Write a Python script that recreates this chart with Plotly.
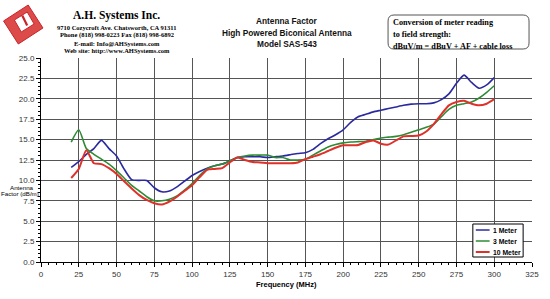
import plotly.graph_objects as go

freq = [20, 25, 30, 35, 40, 45, 50, 55, 60, 65, 70, 75, 80, 85, 90, 95, 100, 105, 110, 115,
        120, 125, 130, 135, 140, 145, 150, 155, 160, 165, 170, 175, 180, 185, 190, 195, 200,
        205, 210, 215, 220, 225, 230, 235, 240, 245, 250, 255, 260, 265, 270, 275, 280, 285,
        290, 295, 300]

af_1m = [11.6, 12.3, 13.2, 13.9, 14.9, 13.9, 13.0, 11.4, 10.1, 10.0, 10.0, 9.1, 8.6, 8.7, 9.2,
         9.9, 10.6, 11.1, 11.5, 11.8, 12.0, 12.4, 12.8, 12.9, 12.9, 12.9, 12.8, 12.9, 13.0, 13.15,
         13.3, 13.4, 13.8, 14.5, 15.1, 15.6, 16.2, 17.1, 17.8, 18.1, 18.4, 18.6, 18.8, 19.0, 19.2,
         19.35, 19.4, 19.4, 19.5, 19.9, 20.6, 21.9, 22.9, 22.0, 21.3, 21.7, 22.6]

af_3m = [14.7, 16.2, 13.9, 13.2, 12.6, 12.0, 11.2, 10.3, 9.4, 8.7, 8.0, 7.5, 7.5, 7.7, 8.1,
         8.8, 9.6, 10.6, 11.4, 11.8, 12.0, 12.4, 12.8, 13.0, 13.1, 13.1, 13.1, 12.8, 12.8, 12.5,
         12.5, 12.6, 13.1, 13.6, 14.1, 14.4, 14.6, 14.7, 14.75, 14.8, 15.0, 15.2, 15.3, 15.4, 15.6,
         15.9, 16.2, 16.5, 16.9, 17.8, 18.7, 19.2, 19.4, 19.6, 20.1, 20.8, 21.6]

af_10m = [10.3, 11.4, 13.7, 12.1, 12.0, 11.5, 10.8, 9.9, 9.0, 8.2, 7.6, 7.2, 7.05, 7.4, 8.0,
          8.7, 9.4, 10.4, 11.3, 11.4, 11.5, 12.2, 12.8, 12.5, 12.25, 12.2, 12.1, 12.1, 12.1, 12.1,
          12.2, 12.6, 12.9, 13.2, 13.6, 14.0, 14.3, 14.3, 14.35, 14.7, 14.9, 14.5, 14.4, 14.9, 15.4,
          15.45, 15.5, 16.0, 16.9, 18.1, 19.2, 19.6, 19.75, 19.4, 19.2, 19.4, 19.95]

series_names = ["1 Meter", "3 Meter", "10 Meter"]
series_values = [af_1m, af_3m, af_10m]
series_colors = ["#2a2a9e", "#2e8b34", "#e0302a"]
series_widths = [1.6, 1.6, 2.0]

x_ticks = [0, 25, 50, 75, 100, 125, 150, 175, 200, 225, 250, 275, 300, 325]
y_ticks = [0.0, 2.5, 5.0, 7.5, 10.0, 12.5, 15.0, 17.5, 20.0, 22.5, 25.0]

W, H = 550, 299
L, R, T, B = 41, 539, 58, 262


def px(x):
    return (x - L) / (R - L)


def py(y):
    return (B - y) / (B - T)


fig = go.Figure()
for name, vals, col, w in zip(series_names, series_values, series_colors, series_widths):
    fig.add_trace(go.Scatter(x=freq, y=vals, name=name, mode="lines", showlegend=False,
                             line=dict(color=col, width=w, shape="spline", smoothing=0.6)))

fig.update_layout(
    width=W, height=H,
    margin=dict(l=L, r=W - R, t=T, b=H - B),
    paper_bgcolor="white", plot_bgcolor="white",
    font=dict(family="Liberation Sans, Arial", size=8, color="#222"),
    showlegend=False,
)

fig.update_xaxes(range=[0, 325], tickvals=x_ticks, ticktext=[str(v) for v in x_ticks],
                 showgrid=True, gridcolor="#555", gridwidth=1,
                 showline=True, linecolor="black", linewidth=1, mirror=False,
                 ticks="outside", ticklen=4, tickcolor="black",
                 tickfont=dict(size=8, color="#333"),
                 minor=dict(dtick=5, ticks="outside", ticklen=2, tickcolor="black", showgrid=False),
                 zeroline=False)
fig.update_yaxes(range=[0, 25], tickvals=y_ticks, ticktext=["%.1f" % v for v in y_ticks],
                 showgrid=True, gridcolor="#555", gridwidth=1,
                 showline=True, linecolor="black", linewidth=1,
                 ticks="outside", ticklen=4, tickcolor="black",
                 tickfont=dict(size=8, color="#333"),
                 minor=dict(dtick=0.5, ticks="outside", ticklen=2, tickcolor="black", showgrid=False),
                 zeroline=False)

ann = []
# chart title
for text, yy in [("Antenna Factor", 21), ("High Powered Biconical Antenna", 32.5), ("Model SAS-543", 44)]:
    ann.append(dict(text="<b>%s</b>" % text, x=px(290), y=py(yy), xref="paper", yref="paper",
                    showarrow=False, xanchor="center", yanchor="middle",
                    font=dict(family="Liberation Sans, Arial", size=8.3, color="#111")))
# company block
ann.append(dict(text="<b>A.H. Systems Inc.</b>", x=px(118), y=py(15), xref="paper", yref="paper",
                showarrow=False, xanchor="center", yanchor="middle",
                font=dict(family="Liberation Serif, Times New Roman", size=11.5, color="black")))
for text, yy in [("9710 Cozycroft Ave. Chatsworth, CA 91311", 27),
                 ("Phone (818) 998-0223 Fax (818) 998-6892", 35),
                 ("E-mail: Info@AHSystems.com", 43),
                 ("Web site: http://www.AHSystems.com", 51)]:
    ann.append(dict(text="<b>%s</b>" % text, x=px(118), y=py(yy), xref="paper", yref="paper",
                    showarrow=False, xanchor="center", yanchor="middle",
                    font=dict(family="Liberation Serif, Times New Roman", size=6.5, color="black")))
# conversion box text
for text, yy in [("Conversion of meter reading", 23), ("to field strength:", 35),
                 ("dBuV/m = dBuV + AF + cable loss", 46)]:
    ann.append(dict(text="<b>%s</b>" % text, x=px(396), y=py(yy), xref="paper", yref="paper",
                    showarrow=False, xanchor="left", yanchor="middle",
                    font=dict(family="Liberation Serif, Times New Roman", size=8.2, color="black")))
# axis titles
ann.append(dict(text="<b>Frequency (MHz)</b>", x=px(290), y=py(284), xref="paper", yref="paper",
                showarrow=False, xanchor="center", yanchor="middle",
                font=dict(family="Liberation Sans, Arial", size=7.5, color="black")))
ann.append(dict(text="Antenna", x=px(22), y=py(187), xref="paper", yref="paper",
                showarrow=False, xanchor="center", yanchor="middle",
                font=dict(family="Liberation Sans, Arial", size=6.2, color="black")))
ann.append(dict(text="Factor (dB/m)", x=px(20), y=py(193), xref="paper", yref="paper",
                showarrow=False, xanchor="center", yanchor="middle",
                font=dict(family="Liberation Sans, Arial", size=6.2, color="black")))

# manual legend (box, sample lines, labels)
shapes = [dict(type="rect", x0=px(479), x1=px(530), y0=py(224), y1=py(257),
               xref="paper", yref="paper", line=dict(color="black", width=1), fillcolor="white")]
for i, (name, col) in enumerate(zip(series_names, series_colors)):
    yy = 230 + i * 11
    shapes.append(dict(type="line", x0=px(482), x1=px(496), y0=py(yy), y1=py(yy),
                       xref="paper", yref="paper", line=dict(color=col, width=1.5 if i < 2 else 2)))
    ann.append(dict(text="<b>%s</b>" % name, x=px(497), y=py(yy), xref="paper", yref="paper",
                    showarrow=False, xanchor="left", yanchor="middle",
                    font=dict(family="Liberation Sans, Arial", size=6.8, color="black")))
fig.update_layout(annotations=ann)

# rounded box
x0, x1, y0, y1, r = px(393), px(536), py(15), py(49), 6
rx, ry = r / (R - L), r / (B - T)
path = (f"M {x0+rx},{y0} L {x1-rx},{y0} Q {x1},{y0} {x1},{y0-ry} L {x1},{y1+ry} "
        f"Q {x1},{y1} {x1-rx},{y1} L {x0+rx},{y1} Q {x0},{y1} {x0},{y1+ry} "
        f"L {x0},{y0-ry} Q {x0},{y0} {x0+rx},{y0} Z")
shapes.append(dict(type="path", path=path, xref="paper", yref="paper",
                   line=dict(color="#555", width=1), fillcolor="rgba(0,0,0,0)", layer="below"))


def pts(lst):
    return "M " + " L ".join(f"{px(a)},{py(b)}" for a, b in lst) + " Z"


# logo (tilted red square with white inner box)
shapes.append(dict(type="path", path=pts([(3, 21), (28, 5), (43, 28), (18, 44)]),
                   xref="paper", yref="paper", line=dict(color="#c8242a", width=1),
                   fillcolor="#dd4a4a"))
shapes.append(dict(type="path", path=pts([(14, 20), (27, 12), (34, 24), (21, 32)]),
                   xref="paper", yref="paper", line=dict(color="#c8242a", width=1),
                   fillcolor="white"))
shapes.append(dict(type="path", path=pts([(21, 16), (23, 15), (28, 25), (26, 26)]),
                   xref="paper", yref="paper", line=dict(color="#c8242a", width=0),
                   fillcolor="#c8242a"))
fig.update_layout(shapes=shapes)

fig.write_html("out.html")
